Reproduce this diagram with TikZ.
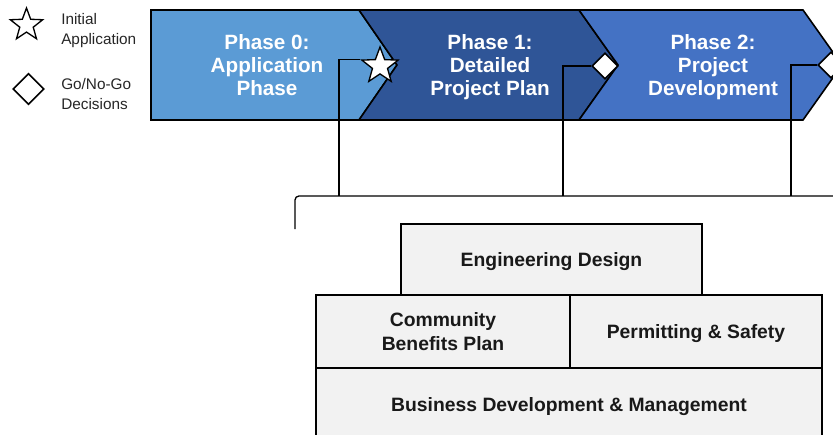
\documentclass[tikz,border=0pt]{standalone}
\usepackage{fontspec}
\setmainfont{Liberation Sans}
\usepackage{tikz}
\usetikzlibrary{shapes.geometric, positioning}

\definecolor{phaseA}{RGB}{91,155,213}
\definecolor{phaseB}{RGB}{47,85,151}
\definecolor{phaseC}{RGB}{68,114,196}
\definecolor{boxgray}{RGB}{242,242,242}

\begin{document}
\begin{tikzpicture}[
  x=0.75pt, y=-0.75pt,
  chev/.style={draw=black, line width=1.2pt, line join=miter},
  ptext/.style={text=white, font=\fontsize{15.5}{17}\selectfont\bfseries, align=center, inner sep=0pt},
  leg/.style={font=\fontsize{11.5}{15}\selectfont, text=black!85, align=left, anchor=west, inner sep=0pt},
  mstar/.style={star, star points=5, star point ratio=2.4, draw=black, fill=white, line width=1pt, inner sep=0pt},
  mdia/.style={diamond, aspect=1, draw=black, fill=white, line width=1.2pt, inner sep=0pt},
  blk/.style={rectangle, draw=black, fill=boxgray, line width=1.1pt,
              font=\fontsize{14.5}{18}\selectfont\bfseries, text=black!90, align=center, inner sep=0pt},
  link/.style={draw=black, line width=1pt}
]
\useasboundingbox (0,0) rectangle (833,435);
\clip (0,0) rectangle (833,435);

% legend
\node[mstar, fill=none, minimum size=25.5pt] (legstar) at (26.5,25) {};
\node[leg] (legstartxt) at (61,31) {Initial\\Application};
\node[mdia, minimum width=23.25pt, minimum height=23.25pt] (legdia) at (28.5,89) {};
\node[leg] (legdiatxt) at (61,94) {Go/No-Go\\Decisions};

% phase chevrons
\path[chev, fill=phaseA] (151,10) -- (359,10) -- (397,65) -- (359,120) -- (151,120) -- cycle;
\path[chev, fill=phaseB] (359,10) -- (579,10) -- (618,65) -- (579,120) -- (359,120) -- (397,65) -- cycle;
\path[chev, fill=phaseC] (579,10) -- (803,10) -- (842,65) -- (803,120) -- (579,120) -- (618,65) -- cycle;

\node[ptext] (ph0) at (267,65) {Phase 0:\\Application\\Phase};
\node[ptext] (ph1) at (490,67) {Phase 1:\\Detailed\\Project Plan};
\node[ptext] (ph2) at (713,67) {Phase 2:\\Project\\Development};

% decision markers on the chevron tips
\node[mstar, minimum size=28.5pt] (st) at (380,66) {};
\node[mdia, minimum width=19.5pt, minimum height=19.5pt] (dia1) at (605,66) {};
\node[mdia, minimum width=19.5pt, minimum height=19.5pt] (dia2) at (831,65) {};

% bracket and drop lines
\coordinate (brL) at (295,229);
\coordinate (brC) at (295,196);
\coordinate (brR) at (840,196);
\coordinate (tap0) at (339,196);
\coordinate (tap1) at (563,196);
\coordinate (tap2) at (791,196);
\draw[link, rounded corners=3pt] (brL) -- (brC) -- (brR);
\draw[link] (st.outer point 2) -| (tap0);
\draw[link] (dia1.west) -| (tap1);
\draw[link] (dia2.west) -| (tap2);

% work streams
\node[blk, text depth=0pt, minimum width=225.75pt, minimum height=53.25pt] (eng) at (551.5,259.5) {Engineering Design};
\node[blk, minimum width=190.5pt, minimum height=54.75pt] (cbp) at (443,331.5) {Community\\Benefits Plan};
\node[blk, text depth=0pt, minimum width=189pt, minimum height=54.75pt] (perm) at (696,331.5) {Permitting \& Safety};
\node[blk, text depth=0pt, minimum width=379.5pt, minimum height=54pt] (biz) at (569,404) {Business Development \& Management};
\end{tikzpicture}
\end{document}
